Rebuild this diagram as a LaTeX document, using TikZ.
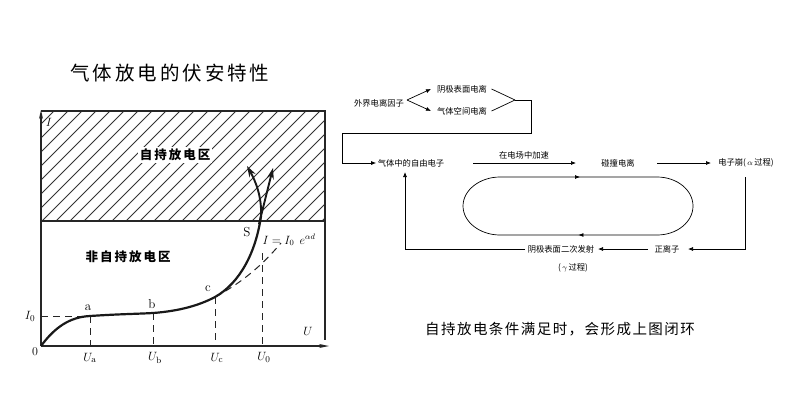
\documentclass[tikz,border=0pt]{standalone}
\usepackage{fontspec}
\newfontfamily\cjk{Noto Sans CJK SC}
\usetikzlibrary{arrows.meta,decorations.markings}
\begin{document}
\begin{tikzpicture}[x=1pt,y=-1pt,
  ax/.style={line width=1.3pt,black!85},
  hatchline/.style={line width=0.8pt,black!80},
  dsh/.style={line width=1pt,black!85,dash pattern=on 7pt off 5pt},
  crv/.style={line width=2.2pt,black!90},
  crvarr/.style={line width=1.9pt,black!90,-{Stealth[length=11pt,width=7pt]}},
  lab/.style={inner sep=1pt,font=\fontsize{13}{15}\selectfont},
  zone/.style={inner sep=1pt,font=\cjk\bfseries\fontsize{12.5}{14}\selectfont\addfontfeature{LetterSpace=16}},
  fl/.style={inner sep=1.5pt,font=\cjk\fontsize{8.3}{10}\selectfont},
  fline/.style={line width=0.7pt,black},
  arr/.style={line width=0.7pt,black,-{Latex[length=5pt,width=4pt]}},
  loopst/.style={line width=0.7pt,black,postaction={decorate},
    decoration={markings,
      mark=at position 80pt with {\arrow{Latex[length=5pt,width=4pt]}},
      mark=at position 338pt with {\arrow{Latex[length=5pt,width=4pt]}}}}
]
\useasboundingbox (0,0) rectangle (800,400);
\fill[white] (0,0) rectangle (800,400);

% ---------- title
\node[inner sep=0pt,font=\cjk\fontsize{19.5}{22}\selectfont\addfontfeature{LetterSpace=15}] (title) at (170,73) {气体放电的伏安特性};

% ---------- hatched region
\begin{scope}
  \clip (41,111) rectangle (325,221);
  \foreach \i in {-9,...,29} \draw[hatchline] ({41+\i*14},222) -- ++(112,-112);
\end{scope}
\node[zone,fill=white,inner sep=2pt] (selfzone) at (175,155) {自持放电区};
\node[zone] (nonself) at (128,257) {非自持放电区};

% ---------- frame and axes
\coordinate (O) at (41,346);
\coordinate (Xend) at (329,346);
\draw[ax] (41,111) -- (325,111) -- (325,340);
\draw[ax] (41,221) -- (325,221);
\draw[ax,-{Stealth[length=9pt,width=4pt]}] (O) -- (41,110);
\draw[ax,-{Stealth[length=10pt,width=4pt]}] (O) -- (Xend);

% ---------- points
\coordinate (A) at (90,316);
\coordinate (B) at (153,313);
\coordinate (C) at (215,297);
\coordinate (Sp) at (261,216);
\coordinate (Ua) at (90,346);
\coordinate (Ub) at (153,346);
\coordinate (Uc) at (215,346);
\coordinate (U0t) at (262,253);
\coordinate (U0) at (262,346);
\coordinate (I0) at (41,316);
\coordinate (Ex) at (281,243);
\coordinate (Lt) at (247,166);
\coordinate (Rb) at (259,224);
\coordinate (Rt) at (273,168);

% dashed guides
\draw[dsh] (I0) -- (A);
\draw[dsh] (A) -- (Ua);
\draw[dsh] (B) -- (Ub);
\draw[dsh] (C) -- (Uc);
\draw[dsh] (U0t) -- (U0);
\draw[dsh] (C) .. controls (245,281) and (265,262) .. (Ex);

% curve
\draw[crv] (O) .. controls (55,327) and (70,317) .. (A)
  .. controls (120,314) and (135,314) .. (B)
  .. controls (180,311) and (200,305) .. (C)
  .. controls (240,283) and (256,252) .. (Sp);
\draw[crvarr] (Sp) .. controls (262,196) and (255,180) .. (Lt);
\draw[crvarr] (Rb) -- (Rt);

% labels
\node[lab] (lI) at (49,122) {$I$};
\node[lab] (lU) at (308,331) {$U$};
\node[lab] (lI0) at (30,316) {$I_0$};
\node[lab] (lO) at (35,352) {$0$};
\node[lab] (la) at (88,308) {a};
\node[lab] (lb) at (152,304) {b};
\node[lab] (lc) at (208,289) {c};
\node[lab] (lS) at (247,232) {S};
\node[lab] (lUa) at (90,358) {$U_{\mathrm{a}}$};
\node[lab] (lUb) at (155,358) {$U_{\mathrm{b}}$};
\node[lab] (lUc) at (217,358) {$U_{\mathrm{c}}$};
\node[lab] (lU0) at (264,357) {$U_0$};
\node[lab,font=\fontsize{12}{14}\selectfont] (lexp) at (289,240) {$I = I_0\;\, e^{\alpha d}$};

% ---------- flowchart
\node[fl] (ext) at (379,103) {外界电离因子};
\node[fl] (cath) at (462,89) {阴极表面电离};
\node[fl] (gas) at (462,111) {气体空间电离};
\node[fl] (free) at (411,163) {气体中的自由电子};
\node[fl] (acc) at (524,155) {在电场中加速};
\node[fl] (coll) at (618,163) {碰撞电离};
\node[fl] (aval) at (746,163) {电子崩(\,$\alpha$\,过程)};
\node[fl] (pos) at (667,249) {正离子};
\node[fl] (sec) at (561,249) {阴极表面二次发射};
\node[fl] (gam) at (573,268) {(\,$\gamma$\,过程)};

\coordinate (e1) at (407,100);
\coordinate (t1) at (431,89);
\coordinate (t2) at (431,111);
\coordinate (br) at (515,100);
\coordinate (c1) at (531,100);
\coordinate (c2) at (531,133);
\coordinate (c3) at (342,133);
\coordinate (c4) at (342,163);
\draw[arr] (e1) -- (t1);
\draw[arr] (e1) -- (t2);
\draw[fline] (cath.east) ++(3,0) coordinate (ce) -- (br);
\draw[fline] (gas.east) ++(3,0) coordinate (ge) -- (br);
\draw[arr] (br) -- (c1) -- (c2) -- (c3) -- (c4) -- (free.west);

\coordinate (a1) at (473,163);
\coordinate (a2) at (576,163);
\draw[arr] (a1) -- (a2);
\coordinate (b1) at (657,163);
\coordinate (b2) at (711,163);
\draw[arr] (b1) -- (b2);
\coordinate (d1) at (745,177);
\coordinate (d2) at (745,249);
\coordinate (d3) at (688,249);
\draw[arr] (d1) -- (d2) -- (d3);
\coordinate (p1) at (648,249);
\coordinate (p2) at (598,249);
\draw[arr] (p1) -- (p2);
\coordinate (s1) at (525,249);
\coordinate (s2) at (405,249);
\coordinate (s3) at (405,172);
\draw[arr] (s1) -- (s2) -- (s3);

% loop
\draw[loopst] (500,177) -- (657,177)
  .. controls (677,177) and (693,190) .. (693,206)
  .. controls (693,222) and (677,235) .. (657,235)
  -- (500,235)
  .. controls (480,235) and (463,222) .. (463,206)
  .. controls (463,190) and (480,177) .. (500,177);

% bottom statement
\node[inner sep=0pt,font=\cjk\fontsize{14.5}{16}\selectfont\addfontfeature{LetterSpace=10}] (stmt) at (560,329) {自持放电条件满足时，会形成上图闭环};
\end{tikzpicture}
\end{document}
